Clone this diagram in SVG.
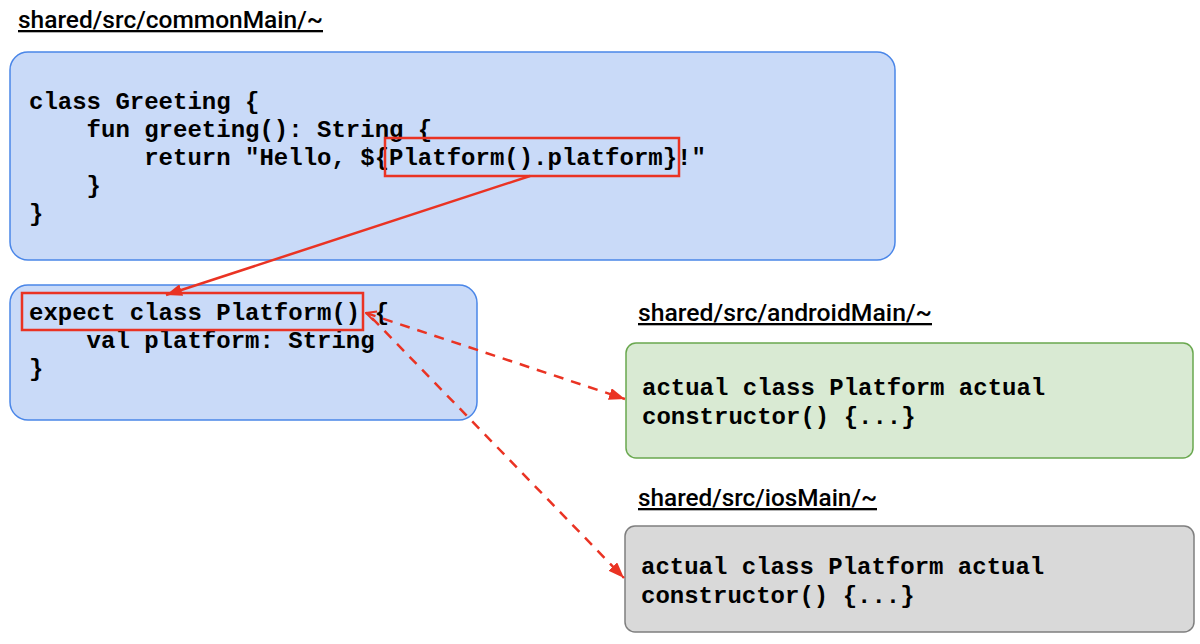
<svg xmlns="http://www.w3.org/2000/svg" width="1200" height="644" viewBox="0 0 1200 644">
<defs>
<style>
.title{font-family:"Google Sans",Roboto,"Open Sans",sans-serif;font-weight:500;font-size:23px;fill:#000;text-decoration:underline}
.code{font-family:"Liberation Mono","Courier New",monospace;font-weight:bold;font-size:24px;fill:#000;white-space:pre}
.hl{fill:none;stroke:#ea3323;stroke-width:2.5}
.conn{fill:none;stroke:#ea3323;stroke-width:2.5}
.dash{stroke-dasharray:10 8}
</style>
<marker id="arr" viewBox="0 0 16 12" refX="16" refY="6" markerWidth="16" markerHeight="12" markerUnits="userSpaceOnUse" orient="auto">
<path d="M0,0 L16,6 L0,12 Z" fill="#ea3323"/>
</marker>
<marker id="open" viewBox="0 0 12 12" refX="1" refY="6" markerWidth="12" markerHeight="12" markerUnits="userSpaceOnUse" orient="auto">
<path d="M11,1 L1,6 L11,11" fill="none" stroke="#ea3323" stroke-width="2"/>
</marker>
</defs>
<rect width="1200" height="644" fill="#fff"/>

<g id="common-title"><text class="title" x="18" y="28" textLength="305" lengthAdjust="spacingAndGlyphs">shared/src/commonMain/~</text></g>

<g id="greeting">
<rect x="10" y="52" width="885" height="208" rx="18" fill="#c9daf8" stroke="#4a86e8" stroke-width="1.5"/>
<text class="code" x="29" y="109">class Greeting {</text>
<text class="code" x="29" y="137">    fun greeting(): String {</text>
<text class="code" x="29" y="165">        return "Hello, ${Platform().platform}!"</text>
<text class="code" x="29" y="193">    }</text>
<text class="code" x="29" y="221">}</text>
<rect class="hl" x="385" y="138" width="294" height="38"/>
</g>

<g id="expect">
<rect x="10" y="285" width="467" height="135" rx="18" fill="#c9daf8" stroke="#4a86e8" stroke-width="1.5"/>
<text class="code" x="29" y="320">expect class Platform() {</text>
<text class="code" x="29" y="348">    val platform: String</text>
<text class="code" x="29" y="376">}</text>
<rect class="hl" x="22" y="293" width="341" height="37"/>
</g>

<g id="android-title"><text class="title" x="638" y="321" textLength="294" lengthAdjust="spacingAndGlyphs">shared/src/androidMain/~</text></g>
<g id="android">
<rect x="626" y="343" width="567" height="115" rx="10" fill="#d9ead3" stroke="#6aa84f" stroke-width="1.5"/>
<text class="code" x="642" y="395">actual class Platform actual</text>
<text class="code" x="642" y="424">constructor() {...}</text>
</g>

<g id="ios-title"><text class="title" x="638" y="506" textLength="239" lengthAdjust="spacingAndGlyphs">shared/src/iosMain/~</text></g>
<g id="ios">
<rect x="625" y="526" width="569" height="106" rx="10" fill="#d9d9d9" stroke="#7f7f7f" stroke-width="1.5"/>
<text class="code" x="641" y="574">actual class Platform actual</text>
<text class="code" x="641" y="603">constructor() {...}</text>
</g>

<g id="connectors">
<line class="conn" x1="530" y1="176" x2="166" y2="295" marker-end="url(#arr)"/>
<line class="conn dash" x1="366" y1="313" x2="625" y2="399" marker-start="url(#open)" marker-end="url(#arr)"/>
<line class="conn dash" x1="372" y1="318" x2="624" y2="578" marker-end="url(#arr)"/>
</g>
</svg>
